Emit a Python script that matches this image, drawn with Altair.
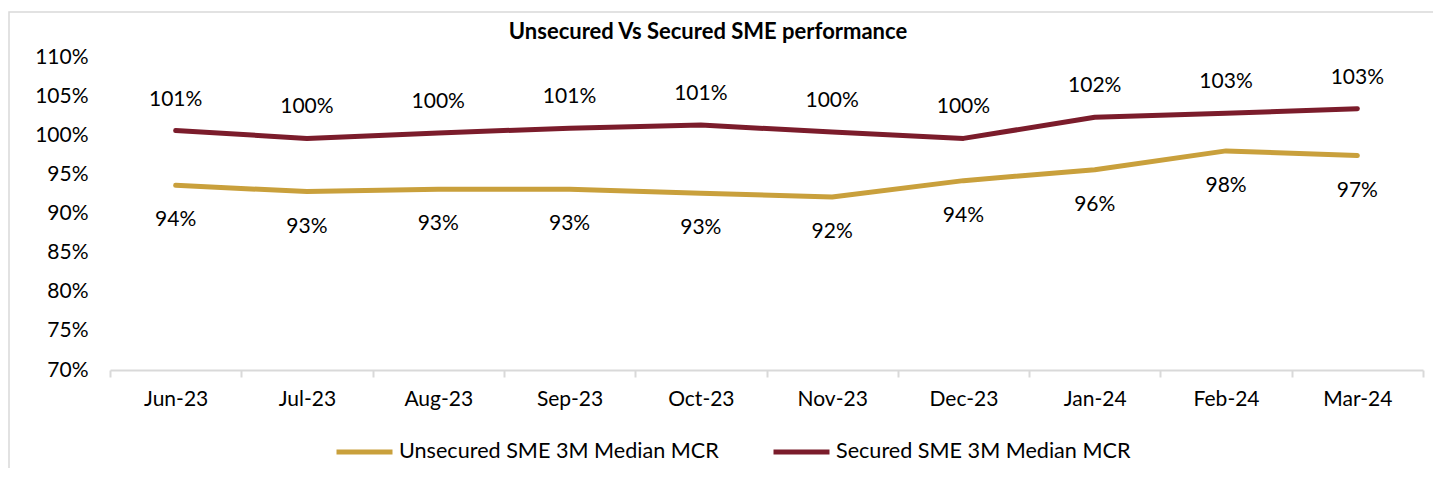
import altair as alt
import pandas as pd

months = ["Jun-23", "Jul-23", "Aug-23", "Sep-23", "Oct-23", "Nov-23",
          "Dec-23", "Jan-24", "Feb-24", "Mar-24"]
unsecured = [93.6, 92.8, 93.1, 93.1, 92.6, 92.1, 94.2, 95.6, 98.0, 97.4]
secured = [100.6, 99.6, 100.3, 100.9, 101.3, 100.4, 99.6, 102.3, 102.8, 103.4]
series_names = ["Unsecured SME 3M Median MCR", "Secured SME 3M Median MCR"]
series_colors = ["#C9A03C", "#7B1C2B"]
y_ticks = [0.70, 0.75, 0.80, 0.85, 0.90, 0.95, 1.00, 1.05, 1.10]
title_text = "Unsecured Vs Secured SME performance"

rows = []
for i, (m, u, s) in enumerate(zip(months, unsecured, secured)):
    rows.append({"month": m, "idx": i, "series": series_names[0], "value": u / 100})
    rows.append({"month": m, "idx": i, "series": series_names[1], "value": s / 100})
df = pd.DataFrame(rows)

FONT = "Lato"
FS = 21

x_enc = alt.X("month:N", sort=months, title=None,
              scale=alt.Scale(paddingInner=0, paddingOuter=0),
              axis=alt.Axis(labelAngle=0, domainColor="#d9d9d9", domainWidth=2,
                            tickColor="#d9d9d9", tickWidth=2, tickSize=7,
                            tickBand="extent", labelPadding=11,
                            labelFontSize=FS, labelColor="#000", labelFont=FONT))
y_enc = alt.Y("value:Q", title=None,
              scale=alt.Scale(domain=[0.7, 1.1], nice=False, zero=False),
              axis=alt.Axis(values=y_ticks, format=".0%", labelOverlap=False,
                            grid=False, domain=False, ticks=False, labelPadding=22,
                            labelFontSize=FS, labelColor="#000", labelFont=FONT))

base = alt.Chart(df)

lines = base.mark_line(strokeWidth=5, strokeCap="round", strokeJoin="round").encode(
    x=x_enc, y=y_enc,
    color=alt.Color("series:N",
                    scale=alt.Scale(domain=series_names, range=series_colors),
                    legend=alt.Legend(title=None, orient="none", direction="horizontal",
                                      legendX=224, legendY=364,
                                      symbolType="stroke", symbolSize=3136,
                                      symbolStrokeWidth=5, labelFontSize=21.6,
                                      labelFont=FONT, labelColor="#000",
                                      labelLimit=500,
                                      labelOffset=4, columnPadding=44)),
    order=alt.Order("idx:Q"),
)

text_sec = base.transform_filter(alt.datum.series == series_names[1]).mark_text(
    dy=-31, fontSize=FS, font=FONT, color="#000").encode(
    x=x_enc, y=y_enc,
    text=alt.Text("value:Q", format=".0%"))

text_uns = base.transform_filter(alt.datum.series == series_names[0]).mark_text(
    dy=35, fontSize=FS, font=FONT, color="#000").encode(
    x=x_enc, y=y_enc,
    text=alt.Text("value:Q", format=".0%"))

one = alt.Chart(pd.DataFrame({"t": [title_text]}))

border = one.mark_rect(fill=None, stroke="#d9d9d9", strokeWidth=1.5).encode(
    x=alt.value(-101), x2=alt.value(1340), y=alt.value(-45), y2=alt.value(440))

title = one.mark_text(fontSize=22, fontWeight="bold", font=FONT, color="#000").encode(
    text="t:N", x=alt.value(598), y=alt.value(-25))

chart = alt.layer(border, title, lines, text_sec, text_uns).properties(
    width=1313, height=313,
    autosize=alt.AutoSizeParams(type="none"),
    padding={"left": 102, "top": 49, "right": 10, "bottom": 98},
).configure_view(stroke=None)

chart.save("out.html", embed_options={"renderer": "svg", "actions": False})
